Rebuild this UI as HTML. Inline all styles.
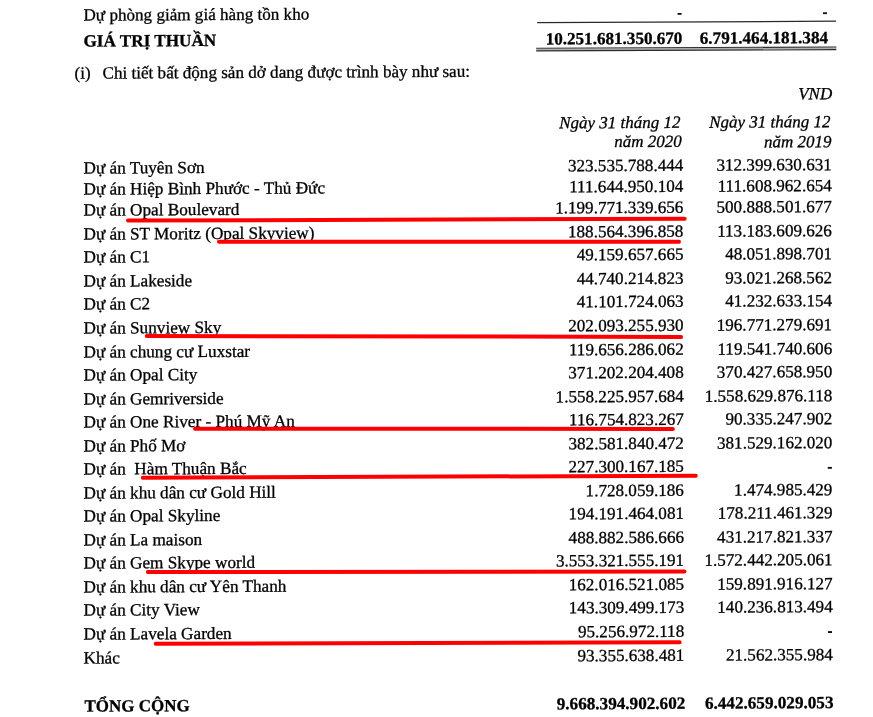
<!DOCTYPE html>
<html><head><meta charset="utf-8"><style>
html,body{margin:0;padding:0;background:#fff;width:873px;height:717px;overflow:hidden}
#pg{position:absolute;left:0;top:0;width:873px;height:717px;transform:skewY(-0.2693deg);transform-origin:0 0;filter:grayscale(1)}
.t{position:absolute;font-family:"Liberation Serif",serif;font-size:17px;line-height:20px;white-space:pre;color:#000;-webkit-text-stroke:0.3px #000}
.b{font-weight:bold}
.i{font-style:italic}
svg{position:absolute;left:0;top:0}
#wrap{position:absolute;left:0;top:0;width:873px;height:717px;filter:blur(0.3px)}
</style></head><body>
<div id="wrap"><div id="pg">
<div class="t " style="left:83.5px;top:6.09px;font-size:17.1px">Dự phòng giảm giá hàng tồn kho</div>
<div class="t b" style="left:83.5px;top:32.39px;font-size:17.15px">GIÁ TRỊ THUẦN</div>
<div class="t r b" style="right:190.6px;top:31.97px;font-size:17.1px">10.251.681.350.670</div>
<div class="t r b" style="right:45.0px;top:31.75px;font-size:17.1px">6.791.464.181.384</div>
<div class="t " style="left:74.5px;top:63.85px">(i)</div>
<div class="t " style="left:102.5px;top:63.98px;font-size:17.1px">Chi tiết bất động sản dở dang được trình bày như sau:</div>
<div class="t r i" style="right:40.8px;top:87.51px">VND</div>
<div class="t r i" style="right:192.5px;top:115.62px">Ngày 31 tháng 12</div>
<div class="t r i" style="right:191.2px;top:135.25px">năm 2020</div>
<div class="t r i" style="right:42.5px;top:115.67px">Ngày 31 tháng 12</div>
<div class="t r i" style="right:41.5px;top:135.66px">năm 2019</div>
<div class="t " style="left:83.5px;top:159.19px;font-size:17.2px">Dự án Tuyên Sơn</div>
<div class="t r " style="right:189.7px;top:159.19px;font-size:17.1px">323.535.788.444</div>
<div class="t r " style="right:41.2px;top:159.19px;font-size:17.1px">312.399.630.631</div>
<div class="t " style="left:83.5px;top:179.79px;font-size:17.2px">Dự án Hiệp Bình Phước - Thủ Đức</div>
<div class="t r " style="right:189.7px;top:179.79px;font-size:17.1px">111.644.950.104</div>
<div class="t r " style="right:41.2px;top:179.79px;font-size:17.1px">111.608.962.654</div>
<div class="t " style="left:83.5px;top:200.99px;font-size:17.2px">Dự án Opal Boulevard</div>
<div class="t r " style="right:189.6px;top:200.99px;font-size:17.1px">1.199.771.339.656</div>
<div class="t r " style="right:41.1px;top:200.99px;font-size:17.1px">500.888.501.677</div>
<div class="t " style="left:83.5px;top:224.89px;font-size:17.2px">Dự án ST Moritz (Opal Skyview)</div>
<div class="t r " style="right:189.6px;top:224.89px;font-size:17.1px">188.564.396.858</div>
<div class="t r " style="right:41.1px;top:224.89px;font-size:17.1px">113.183.609.626</div>
<div class="t " style="left:83.5px;top:248.19px;font-size:17.2px">Dự án C1</div>
<div class="t r " style="right:189.5px;top:248.19px;font-size:17.1px">49.159.657.665</div>
<div class="t r " style="right:41.0px;top:248.19px;font-size:17.1px">48.051.898.701</div>
<div class="t " style="left:83.5px;top:271.89px;font-size:17.2px">Dự án Lakeside</div>
<div class="t r " style="right:189.5px;top:271.89px;font-size:17.1px">44.740.214.823</div>
<div class="t r " style="right:41.0px;top:271.89px;font-size:17.1px">93.021.268.562</div>
<div class="t " style="left:83.5px;top:295.29px;font-size:17.2px">Dự án C2</div>
<div class="t r " style="right:189.4px;top:295.29px;font-size:17.1px">41.101.724.063</div>
<div class="t r " style="right:40.9px;top:295.29px;font-size:17.1px">41.232.633.154</div>
<div class="t " style="left:83.5px;top:319.09px;font-size:17.2px">Dự án Sunview Sky</div>
<div class="t r " style="right:189.4px;top:319.09px;font-size:17.1px">202.093.255.930</div>
<div class="t r " style="right:40.9px;top:319.09px;font-size:17.1px">196.771.279.691</div>
<div class="t " style="left:83.5px;top:342.99px;font-size:17.2px">Dự án chung cư Luxstar</div>
<div class="t r " style="right:189.3px;top:342.99px;font-size:17.1px">119.656.286.062</div>
<div class="t r " style="right:40.8px;top:342.99px;font-size:17.1px">119.541.740.606</div>
<div class="t " style="left:83.5px;top:366.09px;font-size:17.2px">Dự án Opal City</div>
<div class="t r " style="right:189.3px;top:366.09px;font-size:17.1px">371.202.204.408</div>
<div class="t r " style="right:40.8px;top:366.09px;font-size:17.1px">370.427.658.950</div>
<div class="t " style="left:83.5px;top:390.09px;font-size:17.2px">Dự án Gemriverside</div>
<div class="t r " style="right:189.2px;top:390.09px;font-size:17.1px">1.558.225.957.684</div>
<div class="t r " style="right:40.7px;top:390.09px;font-size:17.1px">1.558.629.876.118</div>
<div class="t " style="left:83.5px;top:413.19px;font-size:17.2px">Dự án One River - Phú Mỹ An</div>
<div class="t r " style="right:189.2px;top:413.19px;font-size:17.1px">116.754.823.267</div>
<div class="t r " style="right:40.7px;top:413.19px;font-size:17.1px">90.335.247.902</div>
<div class="t " style="left:83.5px;top:436.69px;font-size:17.2px">Dự án Phố Mơ</div>
<div class="t r " style="right:189.1px;top:436.69px;font-size:17.1px">382.581.840.472</div>
<div class="t r " style="right:40.6px;top:436.69px;font-size:17.1px">381.529.162.020</div>
<div class="t " style="left:83.5px;top:460.29px;font-size:17.2px">Dự án  Hàm Thuận Bắc</div>
<div class="t r " style="right:189.1px;top:460.29px;font-size:17.1px">227.300.167.185</div>
<div class="t " style="left:83.5px;top:483.79px;font-size:17.2px">Dự án khu dân cư Gold Hill</div>
<div class="t r " style="right:189.1px;top:483.79px;font-size:17.1px">1.728.059.186</div>
<div class="t r " style="right:40.6px;top:483.79px;font-size:17.1px">1.474.985.429</div>
<div class="t " style="left:83.5px;top:507.29px;font-size:17.2px">Dự án Opal Skyline</div>
<div class="t r " style="right:189.0px;top:507.29px;font-size:17.1px">194.191.464.081</div>
<div class="t r " style="right:40.5px;top:507.29px;font-size:17.1px">178.211.461.329</div>
<div class="t " style="left:83.5px;top:530.89px;font-size:17.2px">Dự án La maison</div>
<div class="t r " style="right:189.0px;top:530.89px;font-size:17.1px">488.882.586.666</div>
<div class="t r " style="right:40.5px;top:530.89px;font-size:17.1px">431.217.821.337</div>
<div class="t " style="left:83.5px;top:553.79px;font-size:17.2px">Dự án Gem Skype world</div>
<div class="t r " style="right:188.9px;top:553.79px;font-size:17.1px">3.553.321.555.191</div>
<div class="t r " style="right:40.4px;top:553.79px;font-size:17.1px">1.572.442.205.061</div>
<div class="t " style="left:83.5px;top:577.79px;font-size:17.2px">Dự án khu dân cư Yên Thanh</div>
<div class="t r " style="right:188.9px;top:577.79px;font-size:17.1px">162.016.521.085</div>
<div class="t r " style="right:40.4px;top:577.79px;font-size:17.1px">159.891.916.127</div>
<div class="t " style="left:83.5px;top:601.09px;font-size:17.2px">Dự án City View</div>
<div class="t r " style="right:188.8px;top:601.09px;font-size:17.1px">143.309.499.173</div>
<div class="t r " style="right:40.3px;top:601.09px;font-size:17.1px">140.236.813.494</div>
<div class="t " style="left:83.5px;top:624.89px;font-size:17.2px">Dự án Lavela Garden</div>
<div class="t r " style="right:188.8px;top:624.89px;font-size:17.1px">95.256.972.118</div>
<div class="t " style="left:83.5px;top:648.79px;font-size:17.2px">Khác</div>
<div class="t r " style="right:188.7px;top:648.79px;font-size:17.1px">93.355.638.481</div>
<div class="t r " style="right:40.2px;top:648.79px;font-size:17.1px">21.562.355.984</div>
<div class="t b" style="left:84.5px;top:697.09px">TỔNG CỘNG</div>
<div class="t r b" style="right:187.7px;top:697.09px;font-size:17.15px">9.668.394.902.602</div>
<div class="t r b" style="right:39.5px;top:697.09px;font-size:17.15px">6.442.659.029.053</div>
</div>
<svg width="873" height="717" viewBox="0 0 873 717">

<g fill="#111">
<rect x="677.6" y="13.0" width="4.0" height="1.8"/>
<rect x="823.0" y="12.3" width="4.0" height="1.8"/>
<rect x="827.8" y="466.9" width="4.1" height="1.9"/>
<rect x="827.9" y="631.1" width="4.1" height="1.9"/>
</g>
<line x1="537.2" y1="22.6" x2="836.1" y2="21.2" stroke="#2a2a2a" stroke-width="1.2"/>
<line x1="536.2" y1="49.6" x2="836.4" y2="48.3" stroke="#b0b0b0" stroke-width="1.6"/>
<line x1="536.2" y1="48.3" x2="836.4" y2="47.0" stroke="#2a2a2a" stroke-width="1.1"/>
<line x1="536.2" y1="50.9" x2="836.4" y2="49.6" stroke="#2a2a2a" stroke-width="1.1"/>

<g stroke="#f00" stroke-width="4.0" stroke-linecap="round"><line x1="128.0" y1="220.6" x2="684.6999999999999" y2="218.8"/><line x1="219.0" y1="241.8" x2="679.0" y2="241.7"/><line x1="146.79999999999998" y1="336.0" x2="681.0999999999999" y2="336.9"/><line x1="195.0" y1="428.8" x2="672.9" y2="428.9"/><line x1="142.79999999999998" y1="477.7" x2="695.8" y2="475.7"/><line x1="147.79999999999998" y1="572.0" x2="684.5" y2="571.6"/><line x1="155.7" y1="643.8" x2="679.6999999999999" y2="642.3"/></g>
</svg></div>
</body></html>
